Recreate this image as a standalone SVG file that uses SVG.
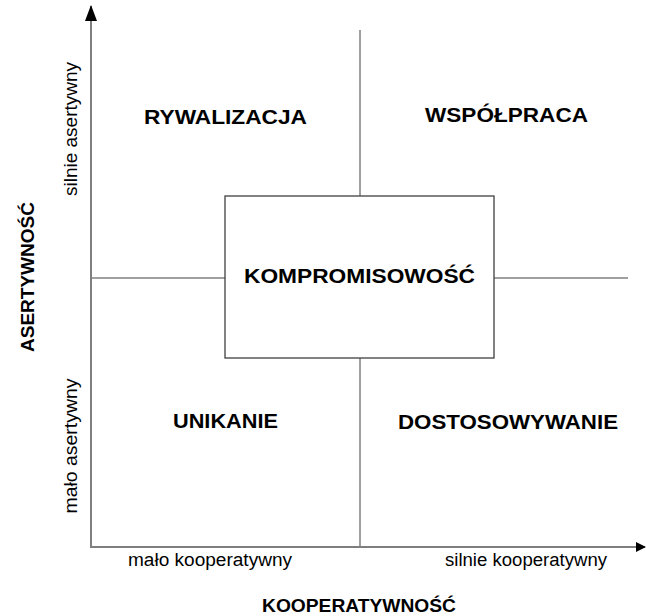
<svg xmlns="http://www.w3.org/2000/svg" width="646" height="616" viewBox="0 0 646 616">
<style>
.ax{stroke:#7f7f7f;stroke-width:2;fill:none}
.ln{stroke:#404040;stroke-width:1;fill:none}
.box{stroke:#404040;stroke-width:1.3;fill:#fff}
.big{font-family:"Liberation Sans",Arial,sans-serif;font-weight:bold;font-size:21px;fill:#000;text-anchor:middle}
.sm{font-family:"Liberation Sans",Arial,sans-serif;font-size:18px;fill:#000;text-anchor:middle}
.ttl{font-family:"Liberation Sans",Arial,sans-serif;font-weight:bold;font-size:19px;fill:#000;text-anchor:middle}
</style>
<defs>
<marker id="ah" markerWidth="10" markerHeight="10" refX="9" refY="5" orient="auto" markerUnits="userSpaceOnUse">
<path d="M0,0 L10,5 L0,10 Z" fill="#000"/>
</marker>
<marker id="av" markerWidth="16" markerHeight="12" refX="15" refY="6" orient="auto" markerUnits="userSpaceOnUse">
<path d="M0,0 L16,6 L0,12 Z" fill="#000"/>
</marker>
</defs>
<g id="connectors">
<line class="ln" x1="360" y1="30" x2="360" y2="547"/>
<line class="ln" x1="91" y1="278" x2="628" y2="278"/>
<line class="ax" x1="91" y1="547" x2="91" y2="6" marker-end="url(#av)"/>
<line class="ax" x1="90" y1="547" x2="645" y2="547" marker-end="url(#ah)"/>
</g>
<g id="box">
<rect class="box" x="225" y="196" width="269" height="162"/>
<text class="big" x="359.5" y="283" textLength="231" lengthAdjust="spacingAndGlyphs">KOMPROMISOWOŚĆ</text>
</g>
<g id="rywalizacja"><text class="big" x="225.5" y="124" textLength="163" lengthAdjust="spacingAndGlyphs">RYWALIZACJA</text></g>
<g id="wspolpraca"><text class="big" x="506.5" y="122" textLength="163" lengthAdjust="spacingAndGlyphs">WSPÓŁPRACA</text></g>
<g id="unikanie"><text class="big" x="225.5" y="428" textLength="105" lengthAdjust="spacingAndGlyphs">UNIKANIE</text></g>
<g id="dostosowywanie"><text class="big" x="508" y="429" textLength="220" lengthAdjust="spacingAndGlyphs">DOSTOSOWYWANIE</text></g>
<g id="xlabels">
<text class="sm" x="210" y="566" textLength="164" lengthAdjust="spacingAndGlyphs">mało kooperatywny</text>
<text class="sm" x="526" y="566" textLength="162" lengthAdjust="spacingAndGlyphs">silnie kooperatywny</text>
<text class="ttl" x="359" y="612" textLength="194" lengthAdjust="spacingAndGlyphs">KOOPERATYWNOŚĆ</text>
</g>
<g id="ylabels">
<text class="sm" transform="translate(77,129) rotate(-90)" textLength="134" lengthAdjust="spacingAndGlyphs">silnie asertywny</text>
<text class="sm" transform="translate(77,446) rotate(-90)" textLength="135" lengthAdjust="spacingAndGlyphs">mało asertywny</text>
<text class="ttl" transform="translate(34,277) rotate(-90)" textLength="150" lengthAdjust="spacingAndGlyphs">ASERTYWNOŚĆ</text>
</g>
</svg>
